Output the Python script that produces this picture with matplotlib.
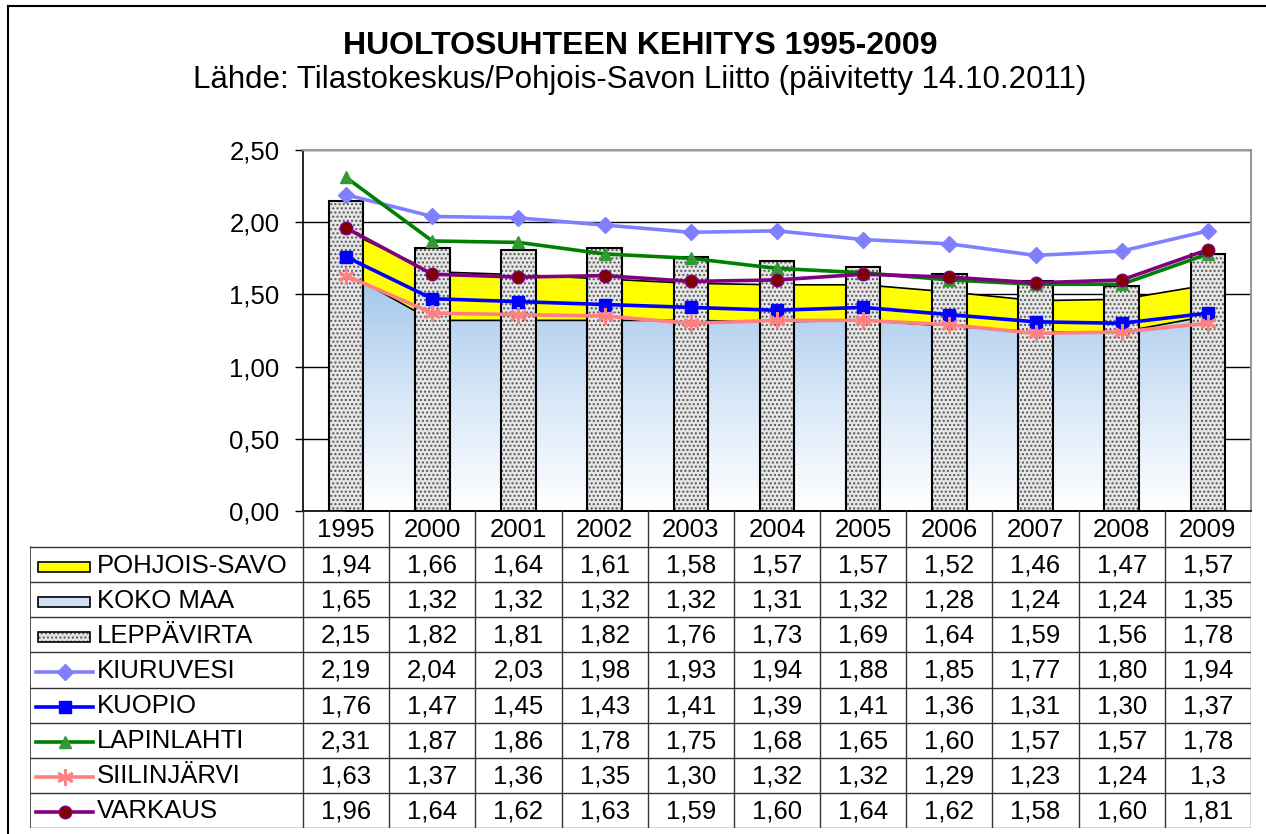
import numpy as np
import matplotlib
matplotlib.use("Agg")
import matplotlib.pyplot as plt
from matplotlib.colors import LinearSegmentedColormap
from matplotlib.lines import Line2D
from matplotlib.patches import Rectangle

plt.rcParams['font.family'] = ['Liberation Sans', 'DejaVu Sans']
plt.rcParams['hatch.linewidth'] = 1.0

# --- data ---
years = ["1995", "2000", "2001", "2002", "2003", "2004", "2005", "2006", "2007", "2008", "2009"]
pohjois_savo = [1.94, 1.66, 1.64, 1.61, 1.58, 1.57, 1.57, 1.52, 1.46, 1.47, 1.57]
koko_maa = [1.65, 1.32, 1.32, 1.32, 1.32, 1.31, 1.32, 1.28, 1.24, 1.24, 1.35]
leppavirta = [2.15, 1.82, 1.81, 1.82, 1.76, 1.73, 1.69, 1.64, 1.59, 1.56, 1.78]
kiuruvesi = [2.19, 2.04, 2.03, 1.98, 1.93, 1.94, 1.88, 1.85, 1.77, 1.80, 1.94]
kuopio = [1.76, 1.47, 1.45, 1.43, 1.41, 1.39, 1.41, 1.36, 1.31, 1.30, 1.37]
lapinlahti = [2.31, 1.87, 1.86, 1.78, 1.75, 1.68, 1.65, 1.60, 1.57, 1.57, 1.78]
siilinjarvi = [1.63, 1.37, 1.36, 1.35, 1.30, 1.32, 1.32, 1.29, 1.23, 1.24, 1.3]
varkaus = [1.96, 1.64, 1.62, 1.63, 1.59, 1.60, 1.64, 1.62, 1.58, 1.60, 1.81]
# cells shown with fewer decimals in the source table
table_overrides = {("SIILINJÄRVI", 10): "1,3"}

W, H = 1266, 834
FS = 18.5
fig = plt.figure(figsize=(W / 100, H / 100), dpi=100)

# plot area in pixels
px_l, px_r, px_t, px_b = 303, 1251, 150, 511
ax = fig.add_axes([px_l / W, 1 - px_b / H, (px_r - px_l) / W, (px_b - px_t) / H])
x = np.arange(len(years))

# gridlines
yt = np.arange(0, 2.51, 0.5)
ax.set_yticks(yt)
ax.set_yticklabels([f"{v:.2f}".replace(".", ",") for v in yt], fontsize=FS)
ax.yaxis.grid(True, color="black", lw=1.0, zorder=0)
ax.set_axisbelow(True)
ax.tick_params(axis="y", direction="out", length=6, width=1, pad=11)
ax.set_xticks([])
for s in ["top", "right"]:
    ax.spines[s].set_color("#999999")
    ax.spines[s].set_linewidth(1.5)
for s in ["left", "bottom"]:
    ax.spines[s].set_color("black")
    ax.spines[s].set_linewidth(1.2)

# areas
ax.fill_between(x, pohjois_savo, color="#ffff00", edgecolor="black", lw=1.2, zorder=1)
poly = ax.fill_between(x, koko_maa, facecolor="none", edgecolor="black", lw=1.2, zorder=1.2)
blue_cmap = LinearSegmentedColormap.from_list("kk", ["#ffffff", "#d6e6f7", "#a2c5ec"])
grad = np.linspace(0, 1, 256).reshape(-1, 1)
im = ax.imshow(grad, cmap=blue_cmap, origin="lower", aspect="auto",
               extent=(-0.5, len(years) - 0.5, 0, max(koko_maa)), zorder=1.1)
im.set_clip_path(poly.get_paths()[0], transform=ax.transData)
ax.set_xlim(-0.5, len(years) - 0.5)
ax.set_ylim(0, 2.5)

# bars
ax.bar(x, leppavirta, width=0.4, color="#e6e6e6", edgecolor="#555555", hatch="....", lw=0, zorder=2)
ax.bar(x, leppavirta, width=0.4, color="none", edgecolor="black", lw=1.5, zorder=2.1)

# lines
lines = [
    ("KIURUVESI", kiuruvesi, dict(color="#8080ff", marker="D", ms=8, mfc="#8080ff", mec="#8080ff")),
    ("KUOPIO", kuopio, dict(color="#0000ff", marker="s", ms=9, mfc="#0000ff", mec="#0000ff")),
    ("LAPINLAHTI", lapinlahti, dict(color="#008000", marker="^", ms=9, mfc="#339933", mec="#339933")),
    ("SIILINJÄRVI", siilinjarvi, dict(color="#ff8080", marker=(6, 2, 0), ms=12, mfc="#ff8080", mec="#ff8080", mew=2)),
    ("VARKAUS", varkaus, dict(color="#800080", marker="o", ms=9, mfc="#800000", mec="#800080")),
]
for name, vals, st in lines:
    ax.plot(x, vals, lw=2.6, zorder=3, **st)

# titles
fig.text(640 / W, 1 - 46 / H, "HUOLTOSUHTEEN KEHITYS 1995-2009", ha="center", va="center",
         fontsize=23, fontweight="bold")
fig.text(640 / W, 1 - 80 / H, "Lähde: Tilastokeskus/Pohjois-Savon Liitto (päivitetty 14.10.2011)",
         ha="center", va="center", fontsize=22.5)

# outer border
fig.add_artist(Line2D([8 / W, 8 / W], [0, 1 - 6 / H], transform=fig.transFigure, color="black", lw=1.5))
fig.add_artist(Line2D([8 / W, 1], [1 - 6 / H, 1 - 6 / H], transform=fig.transFigure, color="black", lw=1.5))

# --- data table ---
tl, tt, tb = 30, 511, 828
tax = fig.add_axes([tl / W, 1 - tb / H, (px_r - tl) / W, (tb - tt) / H])
tax.set_xlim(tl, px_r)
tax.set_ylim(tb, tt)
tax.axis("off")
colw = (px_r - px_l) / len(years)
hdr_b = 547
rowh = (tb - hdr_b) / 8
lc = "#333333"

# header row
for i, yr in enumerate(years):
    cx = px_l + colw * (i + 0.5)
    tax.text(cx, (tt + hdr_b) / 2 + 1, yr, ha="center", va="center", fontsize=FS)
for i in range(len(years) + 1):
    xx = px_l + colw * i
    tax.plot([xx, xx], [tt, tb], color=lc, lw=1)
tax.plot([tl, tl], [hdr_b, tb], color=lc, lw=1.2)
for r in range(9):
    yy = hdr_b + rowh * r
    tax.plot([tl, px_r], [yy, yy], color=lc, lw=1)

series = [
    ("POHJOIS-SAVO", pohjois_savo), ("KOKO MAA", koko_maa), ("LEPPÄVIRTA", leppavirta),
    ("KIURUVESI", kiuruvesi), ("KUOPIO", kuopio), ("LAPINLAHTI", lapinlahti),
    ("SIILINJÄRVI", siilinjarvi), ("VARKAUS", varkaus),
]
line_styles = {n: st for n, _, st in lines}
for r, (name, vals) in enumerate(series):
    cy = hdr_b + rowh * (r + 0.5)
    tax.text(97, cy + 1, name, ha="left", va="center", fontsize=FS)
    if name == "POHJOIS-SAVO":
        tax.add_patch(Rectangle((38, cy - 3), 52, 10, facecolor="#ffff00", edgecolor="black", lw=1.2))
    elif name == "KOKO MAA":
        tax.add_patch(Rectangle((38, cy - 3), 52, 10, facecolor="#cfe0f4", edgecolor="black", lw=1.2))
    elif name == "LEPPÄVIRTA":
        tax.add_patch(Rectangle((38, cy - 3), 52, 10, facecolor="#e6e6e6", edgecolor="#555555",
                                hatch="....", lw=0))
        tax.add_patch(Rectangle((38, cy - 3), 52, 10, facecolor="none", edgecolor="black", lw=1.2))
    else:
        st = line_styles[name]
        tax.plot([36, 93], [cy + 2, cy + 2], lw=2.6, color=st["color"])
        tax.plot([64.5], [cy + 2], marker=st["marker"], ms=st["ms"], mfc=st["mfc"],
                 mec=st["mec"], mew=st.get("mew", 1), color=st["color"])
    for i, v in enumerate(vals):
        txt = table_overrides.get((name, i), f"{v:.2f}".replace(".", ","))
        tax.text(px_l + colw * (i + 0.5), cy + 1, txt, ha="center", va="center", fontsize=FS)

fig.savefig("out.png", dpi=100)
